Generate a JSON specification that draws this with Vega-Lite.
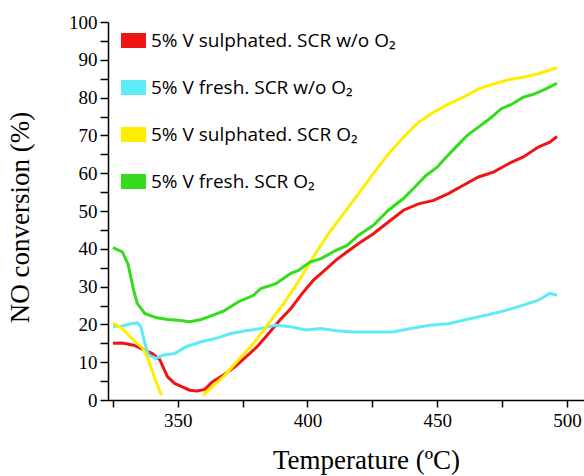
{
  "$schema": "https://vega.github.io/schema/vega-lite/v6.json",
  "width": 476,
  "height": 378,
  "autosize": {"type": "none"},
  "padding": {"left": 108, "top": 22, "right": 0, "bottom": 76},
  "background": "white",
  "config": {
    "view": {"stroke": null},
    "axis": {"grid": false, "domainColor": "black", "tickColor": "black", "labelColor": "black", "titleColor": "black", "labelFont": "Liberation Serif", "titleFont": "Liberation Serif", "labelFontSize": 19, "titleFontSize": 27, "titleFontWeight": "normal", "domainWidth": 1.5, "tickWidth": 1.5}
  },
  "datasets": {
    "pts": [
      {"s": "5% V sulphated. SCR w/o O₂", "seg": "r", "t": 325, "v": 15},
      {"s": "5% V sulphated. SCR w/o O₂", "seg": "r", "t": 328.6, "v": 15.1},
      {"s": "5% V sulphated. SCR w/o O₂", "seg": "r", "t": 333, "v": 14.5},
      {"s": "5% V sulphated. SCR w/o O₂", "seg": "r", "t": 336.6, "v": 13.4},
      {"s": "5% V sulphated. SCR w/o O₂", "seg": "r", "t": 340.2, "v": 12.3},
      {"s": "5% V sulphated. SCR w/o O₂", "seg": "r", "t": 343.1, "v": 10.6},
      {"s": "5% V sulphated. SCR w/o O₂", "seg": "r", "t": 346, "v": 6.2},
      {"s": "5% V sulphated. SCR w/o O₂", "seg": "r", "t": 348.8, "v": 4.4},
      {"s": "5% V sulphated. SCR w/o O₂", "seg": "r", "t": 351.7, "v": 3.5},
      {"s": "5% V sulphated. SCR w/o O₂", "seg": "r", "t": 354.6, "v": 2.6},
      {"s": "5% V sulphated. SCR w/o O₂", "seg": "r", "t": 357.5, "v": 2.4},
      {"s": "5% V sulphated. SCR w/o O₂", "seg": "r", "t": 360.4, "v": 2.8},
      {"s": "5% V sulphated. SCR w/o O₂", "seg": "r", "t": 363.3, "v": 4.8},
      {"s": "5% V sulphated. SCR w/o O₂", "seg": "r", "t": 367.6, "v": 6.6},
      {"s": "5% V sulphated. SCR w/o O₂", "seg": "r", "t": 372, "v": 8.8},
      {"s": "5% V sulphated. SCR w/o O₂", "seg": "r", "t": 376.3, "v": 11.4},
      {"s": "5% V sulphated. SCR w/o O₂", "seg": "r", "t": 380.6, "v": 14.1},
      {"s": "5% V sulphated. SCR w/o O₂", "seg": "r", "t": 385, "v": 17.6},
      {"s": "5% V sulphated. SCR w/o O₂", "seg": "r", "t": 389.3, "v": 21.1},
      {"s": "5% V sulphated. SCR w/o O₂", "seg": "r", "t": 393.6, "v": 24.2},
      {"s": "5% V sulphated. SCR w/o O₂", "seg": "r", "t": 398, "v": 28.2},
      {"s": "5% V sulphated. SCR w/o O₂", "seg": "r", "t": 402.3, "v": 31.7},
      {"s": "5% V sulphated. SCR w/o O₂", "seg": "r", "t": 406.6, "v": 34.3},
      {"s": "5% V sulphated. SCR w/o O₂", "seg": "r", "t": 411, "v": 37},
      {"s": "5% V sulphated. SCR w/o O₂", "seg": "r", "t": 415.3, "v": 39.2},
      {"s": "5% V sulphated. SCR w/o O₂", "seg": "r", "t": 419.7, "v": 41.4},
      {"s": "5% V sulphated. SCR w/o O₂", "seg": "r", "t": 425.4, "v": 44},
      {"s": "5% V sulphated. SCR w/o O₂", "seg": "r", "t": 431.2, "v": 47.1},
      {"s": "5% V sulphated. SCR w/o O₂", "seg": "r", "t": 437, "v": 50.2},
      {"s": "5% V sulphated. SCR w/o O₂", "seg": "r", "t": 442.8, "v": 51.9},
      {"s": "5% V sulphated. SCR w/o O₂", "seg": "r", "t": 448.6, "v": 52.8},
      {"s": "5% V sulphated. SCR w/o O₂", "seg": "r", "t": 454.3, "v": 54.6},
      {"s": "5% V sulphated. SCR w/o O₂", "seg": "r", "t": 460.1, "v": 56.8},
      {"s": "5% V sulphated. SCR w/o O₂", "seg": "r", "t": 465.9, "v": 59},
      {"s": "5% V sulphated. SCR w/o O₂", "seg": "r", "t": 471.7, "v": 60.3},
      {"s": "5% V sulphated. SCR w/o O₂", "seg": "r", "t": 477.5, "v": 62.5},
      {"s": "5% V sulphated. SCR w/o O₂", "seg": "r", "t": 483.2, "v": 64.3},
      {"s": "5% V sulphated. SCR w/o O₂", "seg": "r", "t": 489, "v": 66.9},
      {"s": "5% V sulphated. SCR w/o O₂", "seg": "r", "t": 493.4, "v": 68.2},
      {"s": "5% V sulphated. SCR w/o O₂", "seg": "r", "t": 496.2, "v": 69.7},

      {"s": "5% V fresh. SCR w/o O₂", "seg": "c", "t": 325, "v": 19.5},
      {"s": "5% V fresh. SCR w/o O₂", "seg": "c", "t": 328.6, "v": 19.5},
      {"s": "5% V fresh. SCR w/o O₂", "seg": "c", "t": 331.5, "v": 20.1},
      {"s": "5% V fresh. SCR w/o O₂", "seg": "c", "t": 334.4, "v": 20.4},
      {"s": "5% V fresh. SCR w/o O₂", "seg": "c", "t": 335.8, "v": 19.4},
      {"s": "5% V fresh. SCR w/o O₂", "seg": "c", "t": 337.3, "v": 15},
      {"s": "5% V fresh. SCR w/o O₂", "seg": "c", "t": 338.7, "v": 11.9},
      {"s": "5% V fresh. SCR w/o O₂", "seg": "c", "t": 341.6, "v": 11},
      {"s": "5% V fresh. SCR w/o O₂", "seg": "c", "t": 344.5, "v": 11.9},
      {"s": "5% V fresh. SCR w/o O₂", "seg": "c", "t": 348.8, "v": 12.3},
      {"s": "5% V fresh. SCR w/o O₂", "seg": "c", "t": 353.2, "v": 14.1},
      {"s": "5% V fresh. SCR w/o O₂", "seg": "c", "t": 359, "v": 15.4},
      {"s": "5% V fresh. SCR w/o O₂", "seg": "c", "t": 364.7, "v": 16.3},
      {"s": "5% V fresh. SCR w/o O₂", "seg": "c", "t": 370.5, "v": 17.6},
      {"s": "5% V fresh. SCR w/o O₂", "seg": "c", "t": 376.3, "v": 18.3},
      {"s": "5% V fresh. SCR w/o O₂", "seg": "c", "t": 382, "v": 18.9},
      {"s": "5% V fresh. SCR w/o O₂", "seg": "c", "t": 387.9, "v": 19.8},
      {"s": "5% V fresh. SCR w/o O₂", "seg": "c", "t": 393.6, "v": 19.4},
      {"s": "5% V fresh. SCR w/o O₂", "seg": "c", "t": 399.4, "v": 18.5},
      {"s": "5% V fresh. SCR w/o O₂", "seg": "c", "t": 405.2, "v": 18.9},
      {"s": "5% V fresh. SCR w/o O₂", "seg": "c", "t": 411, "v": 18.3},
      {"s": "5% V fresh. SCR w/o O₂", "seg": "c", "t": 418.2, "v": 18},
      {"s": "5% V fresh. SCR w/o O₂", "seg": "c", "t": 425.4, "v": 18},
      {"s": "5% V fresh. SCR w/o O₂", "seg": "c", "t": 432.7, "v": 18},
      {"s": "5% V fresh. SCR w/o O₂", "seg": "c", "t": 439.9, "v": 18.9},
      {"s": "5% V fresh. SCR w/o O₂", "seg": "c", "t": 447.1, "v": 19.8},
      {"s": "5% V fresh. SCR w/o O₂", "seg": "c", "t": 454.3, "v": 20.2},
      {"s": "5% V fresh. SCR w/o O₂", "seg": "c", "t": 460.1, "v": 21.1},
      {"s": "5% V fresh. SCR w/o O₂", "seg": "c", "t": 465.9, "v": 22},
      {"s": "5% V fresh. SCR w/o O₂", "seg": "c", "t": 471.7, "v": 22.9},
      {"s": "5% V fresh. SCR w/o O₂", "seg": "c", "t": 477.5, "v": 23.9},
      {"s": "5% V fresh. SCR w/o O₂", "seg": "c", "t": 483.2, "v": 25.1},
      {"s": "5% V fresh. SCR w/o O₂", "seg": "c", "t": 489, "v": 26.4},
      {"s": "5% V fresh. SCR w/o O₂", "seg": "c", "t": 493.4, "v": 28.2},
      {"s": "5% V fresh. SCR w/o O₂", "seg": "c", "t": 496.2, "v": 27.7},

      {"s": "5% V sulphated. SCR O₂", "seg": "y1", "t": 325, "v": 20.4},
      {"s": "5% V sulphated. SCR O₂", "seg": "y1", "t": 328.6, "v": 18.9},
      {"s": "5% V sulphated. SCR O₂", "seg": "y1", "t": 333, "v": 15.8},
      {"s": "5% V sulphated. SCR O₂", "seg": "y1", "t": 336.6, "v": 13.6},
      {"s": "5% V sulphated. SCR O₂", "seg": "y1", "t": 338.7, "v": 10.6},
      {"s": "5% V sulphated. SCR O₂", "seg": "y1", "t": 340.9, "v": 6.2},
      {"s": "5% V sulphated. SCR O₂", "seg": "y1", "t": 343.1, "v": 2.2},
      {"s": "5% V sulphated. SCR O₂", "seg": "y1", "t": 343.8, "v": 1.3},
      {"s": "5% V sulphated. SCR O₂", "seg": "y2", "t": 359.7, "v": 1.3},
      {"s": "5% V sulphated. SCR O₂", "seg": "y2", "t": 362.6, "v": 3.1},
      {"s": "5% V sulphated. SCR O₂", "seg": "y2", "t": 367.6, "v": 6.2},
      {"s": "5% V sulphated. SCR O₂", "seg": "y2", "t": 373.4, "v": 10.6},
      {"s": "5% V sulphated. SCR O₂", "seg": "y2", "t": 379.2, "v": 15},
      {"s": "5% V sulphated. SCR O₂", "seg": "y2", "t": 385, "v": 20.2},
      {"s": "5% V sulphated. SCR O₂", "seg": "y2", "t": 390.8, "v": 25.5},
      {"s": "5% V sulphated. SCR O₂", "seg": "y2", "t": 396.5, "v": 31.3},
      {"s": "5% V sulphated. SCR O₂", "seg": "y2", "t": 402.3, "v": 37.9},
      {"s": "5% V sulphated. SCR O₂", "seg": "y2", "t": 408.1, "v": 44},
      {"s": "5% V sulphated. SCR O₂", "seg": "y2", "t": 413.9, "v": 49.3},
      {"s": "5% V sulphated. SCR O₂", "seg": "y2", "t": 419.7, "v": 54.6},
      {"s": "5% V sulphated. SCR O₂", "seg": "y2", "t": 425.4, "v": 59.9},
      {"s": "5% V sulphated. SCR O₂", "seg": "y2", "t": 431.2, "v": 65.1},
      {"s": "5% V sulphated. SCR O₂", "seg": "y2", "t": 437, "v": 69.5},
      {"s": "5% V sulphated. SCR O₂", "seg": "y2", "t": 442.8, "v": 73.5},
      {"s": "5% V sulphated. SCR O₂", "seg": "y2", "t": 448.6, "v": 76.1},
      {"s": "5% V sulphated. SCR O₂", "seg": "y2", "t": 454.3, "v": 78.3},
      {"s": "5% V sulphated. SCR O₂", "seg": "y2", "t": 460.1, "v": 80.1},
      {"s": "5% V sulphated. SCR O₂", "seg": "y2", "t": 465.9, "v": 82.3},
      {"s": "5% V sulphated. SCR O₂", "seg": "y2", "t": 471.7, "v": 83.6},
      {"s": "5% V sulphated. SCR O₂", "seg": "y2", "t": 477.5, "v": 84.7},
      {"s": "5% V sulphated. SCR O₂", "seg": "y2", "t": 483.2, "v": 85.4},
      {"s": "5% V sulphated. SCR O₂", "seg": "y2", "t": 489, "v": 86.3},
      {"s": "5% V sulphated. SCR O₂", "seg": "y2", "t": 496.2, "v": 87.9},

      {"s": "5% V fresh. SCR O₂", "seg": "g", "t": 325, "v": 40.3},
      {"s": "5% V fresh. SCR O₂", "seg": "g", "t": 328.6, "v": 39.2},
      {"s": "5% V fresh. SCR O₂", "seg": "g", "t": 330.8, "v": 36},
      {"s": "5% V fresh. SCR O₂", "seg": "g", "t": 333, "v": 29},
      {"s": "5% V fresh. SCR O₂", "seg": "g", "t": 334.4, "v": 25.5},
      {"s": "5% V fresh. SCR O₂", "seg": "g", "t": 337.3, "v": 22.9},
      {"s": "5% V fresh. SCR O₂", "seg": "g", "t": 341.6, "v": 21.8},
      {"s": "5% V fresh. SCR O₂", "seg": "g", "t": 346, "v": 21.3},
      {"s": "5% V fresh. SCR O₂", "seg": "g", "t": 350.3, "v": 21.1},
      {"s": "5% V fresh. SCR O₂", "seg": "g", "t": 354.6, "v": 20.7},
      {"s": "5% V fresh. SCR O₂", "seg": "g", "t": 359, "v": 21.3},
      {"s": "5% V fresh. SCR O₂", "seg": "g", "t": 361.8, "v": 22},
      {"s": "5% V fresh. SCR O₂", "seg": "g", "t": 367.6, "v": 23.5},
      {"s": "5% V fresh. SCR O₂", "seg": "g", "t": 373.4, "v": 26},
      {"s": "5% V fresh. SCR O₂", "seg": "g", "t": 379.2, "v": 27.7},
      {"s": "5% V fresh. SCR O₂", "seg": "g", "t": 382, "v": 29.5},
      {"s": "5% V fresh. SCR O₂", "seg": "g", "t": 387.9, "v": 30.8},
      {"s": "5% V fresh. SCR O₂", "seg": "g", "t": 393.6, "v": 33.5},
      {"s": "5% V fresh. SCR O₂", "seg": "g", "t": 396.5, "v": 34.3},
      {"s": "5% V fresh. SCR O₂", "seg": "g", "t": 400.9, "v": 36.5},
      {"s": "5% V fresh. SCR O₂", "seg": "g", "t": 405.2, "v": 37.4},
      {"s": "5% V fresh. SCR O₂", "seg": "g", "t": 411, "v": 39.6},
      {"s": "5% V fresh. SCR O₂", "seg": "g", "t": 415.3, "v": 40.9},
      {"s": "5% V fresh. SCR O₂", "seg": "g", "t": 419.7, "v": 43.6},
      {"s": "5% V fresh. SCR O₂", "seg": "g", "t": 425.4, "v": 46.2},
      {"s": "5% V fresh. SCR O₂", "seg": "g", "t": 431.2, "v": 50.2},
      {"s": "5% V fresh. SCR O₂", "seg": "g", "t": 437, "v": 53.3},
      {"s": "5% V fresh. SCR O₂", "seg": "g", "t": 441.3, "v": 56.3},
      {"s": "5% V fresh. SCR O₂", "seg": "g", "t": 445.7, "v": 59.4},
      {"s": "5% V fresh. SCR O₂", "seg": "g", "t": 450, "v": 61.6},
      {"s": "5% V fresh. SCR O₂", "seg": "g", "t": 452.9, "v": 63.8},
      {"s": "5% V fresh. SCR O₂", "seg": "g", "t": 457.2, "v": 66.9},
      {"s": "5% V fresh. SCR O₂", "seg": "g", "t": 461.6, "v": 70},
      {"s": "5% V fresh. SCR O₂", "seg": "g", "t": 465.9, "v": 72.2},
      {"s": "5% V fresh. SCR O₂", "seg": "g", "t": 470.2, "v": 74.4},
      {"s": "5% V fresh. SCR O₂", "seg": "g", "t": 474.6, "v": 77},
      {"s": "5% V fresh. SCR O₂", "seg": "g", "t": 478.9, "v": 78.3},
      {"s": "5% V fresh. SCR O₂", "seg": "g", "t": 483.2, "v": 80.1},
      {"s": "5% V fresh. SCR O₂", "seg": "g", "t": 487.6, "v": 81},
      {"s": "5% V fresh. SCR O₂", "seg": "g", "t": 491.9, "v": 82.3},
      {"s": "5% V fresh. SCR O₂", "seg": "g", "t": 496.2, "v": 83.8}
    ]
  },
  "data": {"name": "pts"},
  "mark": {"type": "line", "strokeWidth": 3, "clip": true},
  "encoding": {
    "x": {
      "field": "t", "type": "quantitative",
      "scale": {"domain": [323.1, 506.6], "nice": false, "zero": false},
      "axis": {"values": [325, 350, 375, 400, 425, 450, 475, 500], "labelExpr": "datum.value % 50 == 0 ? datum.label : ''", "tickSize": 7, "labelPadding": 4, "title": "Temperature (ºC)", "titleX": 258, "titleY": 68, "titleBaseline": "alphabetic", "titleAnchor": null, "titleAlign": "center"}
    },
    "y": {
      "field": "v", "type": "quantitative",
      "scale": {"domain": [0, 100], "nice": false},
      "axis": {"values": [0, 5, 10, 15, 20, 25, 30, 35, 40, 45, 50, 55, 60, 65, 70, 75, 80, 85, 90, 95, 100], "labelExpr": "datum.value % 10 == 0 ? datum.label : ''", "tickSize": 8, "labelPadding": 3, "title": "NO conversion (%)", "titleX": -80, "titleY": 195, "titleAngle": -90, "titleBaseline": "alphabetic", "titleAlign": "center", "titleAnchor": null}
    },
    "color": {
      "field": "s", "type": "nominal",
      "scale": {"domain": ["5% V sulphated. SCR w/o O₂", "5% V fresh. SCR w/o O₂", "5% V sulphated. SCR O₂", "5% V fresh. SCR O₂"], "range": ["#f01414", "#5eeaf7", "#ffee00", "#33dd1a"]},
      "legend": {"title": null, "orient": "none", "legendX": 13, "legendY": 6, "padding": 0, "symbolType": "M-1,-0.6H1V0.6H-1Z", "symbolSize": 625, "symbolStrokeWidth": 0, "symbolOpacity": 1, "labelFont": "Open Sans", "labelFontSize": 19, "labelColor": "black", "labelOffset": 5, "rowPadding": 24, "labelLimit": 400,
        "encode": {"symbols": {"update": {"fill": {"scale": "color", "field": "value"}, "fillOpacity": {"value": 1}, "strokeWidth": {"value": 0}}}}}
    },
    "detail": {"field": "seg"}
  }
}
